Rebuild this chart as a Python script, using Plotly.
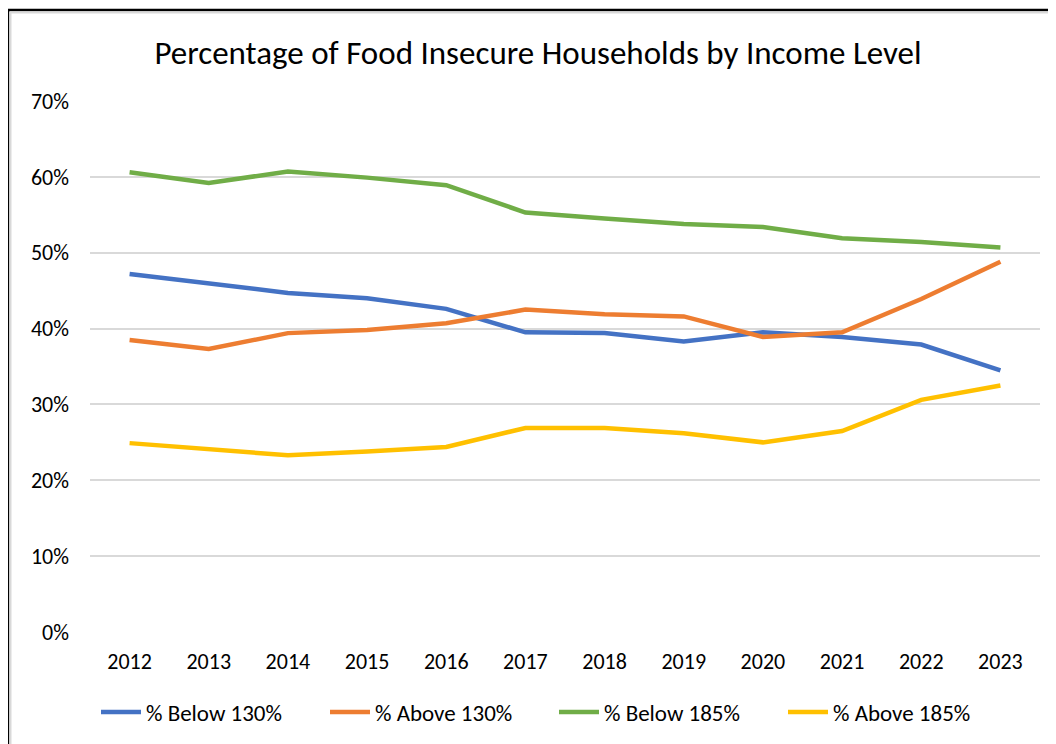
import plotly.graph_objects as go

years = ["2012", "2013", "2014", "2015", "2016", "2017", "2018", "2019", "2020", "2021", "2022", "2023"]
below_130 = [0.472, 0.460, 0.447, 0.440, 0.426, 0.395, 0.394, 0.383, 0.395, 0.389, 0.379, 0.345]
above_130 = [0.385, 0.373, 0.394, 0.398, 0.407, 0.425, 0.419, 0.416, 0.389, 0.395, 0.439, 0.488]
below_185 = [0.606, 0.592, 0.607, 0.599, 0.589, 0.553, 0.545, 0.538, 0.534, 0.519, 0.514, 0.507]
above_185 = [0.249, 0.241, 0.233, 0.238, 0.244, 0.269, 0.269, 0.262, 0.250, 0.265, 0.306, 0.325]

series_names = ["% Below 130%", "% Above 130%", "% Below 185%", "% Above 185%"]
series_values = [below_130, above_130, below_185, above_185]
series_colors = ["#4472C4", "#ED7D31", "#70AD47", "#FFC000"]

FONT = "Carlito, Lato, sans-serif"

fig = go.Figure()
for name, vals, col in zip(series_names, series_values, series_colors):
    fig.add_trace(go.Scatter(
        x=years, y=vals, name=name, mode="lines",
        line=dict(color=col, width=4.5),
    ))

# page body has an 8px margin, so figure coords = screen coords - 8
OFF = 8
W, H = 1056, 744
L, R, T, B = 90 - OFF, W - (1040 - OFF), 101 - OFF, H - (632 - OFF)
pw, ph = W - L - R, H - T - B

def px(x):
    return (x - OFF - L) / pw

def py(y):
    return (H - B - (y - OFF)) / ph

shapes = [
    dict(type="line", xref="paper", yref="paper", x0=px(7), x1=px(1080), y0=py(10), y1=py(10),
         line=dict(color="black", width=2.5)),
    dict(type="line", xref="paper", yref="paper", x0=px(8), x1=px(8), y0=py(9), y1=py(780),
         line=dict(color="black", width=2.5)),
    dict(type="line", xref="paper", yref="paper", x0=px(10), x1=px(1080), y0=py(12.5), y1=py(12.5),
         line=dict(color="#D9D9D9", width=2)),
    dict(type="line", xref="paper", yref="paper", x0=px(10.5), x1=px(10.5), y0=py(12), y1=py(780),
         line=dict(color="#D9D9D9", width=2)),
]

fig.update_layout(
    width=W, height=H,
    margin=dict(l=L, r=R, t=T, b=B, autoexpand=False),
    paper_bgcolor="white", plot_bgcolor="white",
    font=dict(family=FONT, size=22, color="black"),
    title=dict(text="Percentage of Food Insecure Households by Income Level",
               x=(538 - OFF) / W, xref="container", xanchor="center",
               y=(H - (52 - OFF)) / H, yanchor="middle",
               font=dict(family=FONT, size=33, color="black")),
    xaxis=dict(type="category", range=[-0.5, 11.5], showgrid=False, zeroline=False,
               showline=False, ticks="", tickfont=dict(size=22), ticklabelstandoff=14),
    yaxis=dict(range=[0, 0.7], dtick=0.1, tickformat=".0%", showgrid=True,
               gridcolor="#D9D9D9", gridwidth=1.8, zeroline=False, showline=False,
               ticks="", tickfont=dict(size=22), ticklabelstandoff=20),
    legend=dict(orientation="h", x=px(96), xanchor="left", y=py(712), yanchor="middle",
                font=dict(size=23), itemwidth=40, tracegroupgap=0,
                entrywidth=174, entrywidthmode="pixels"),
    shapes=shapes,
    showlegend=True,
)

fig.write_html("out.html")
